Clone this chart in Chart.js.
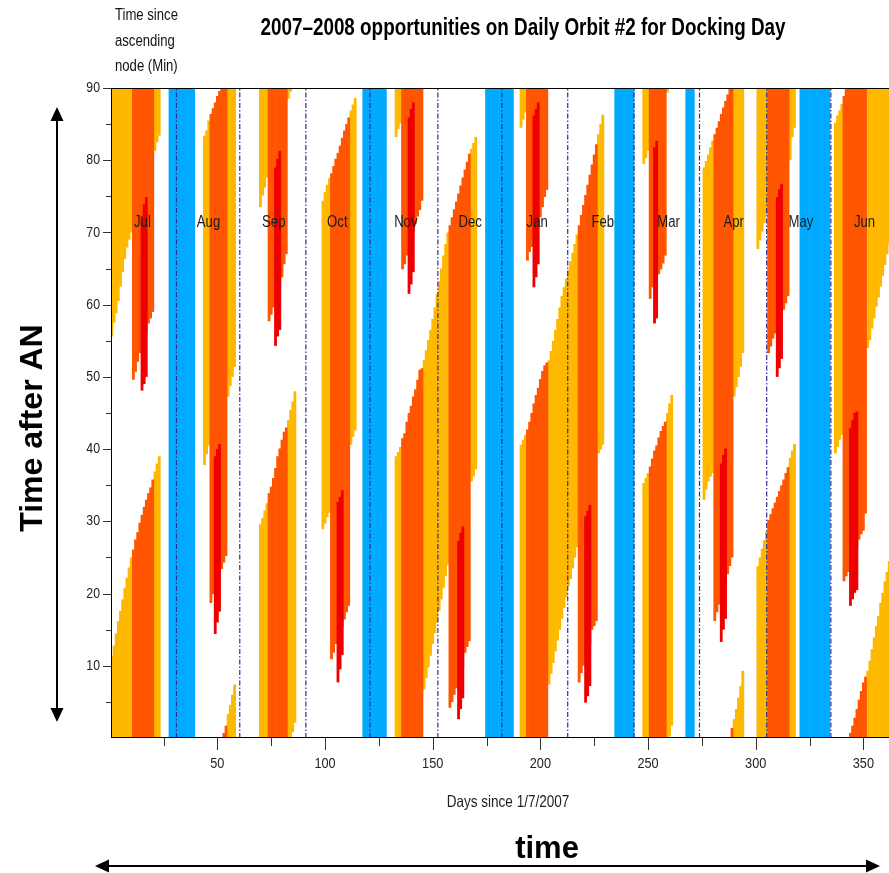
<!DOCTYPE html>
<html>
<head>
<meta charset="utf-8">
<title>2007-2008 opportunities on Daily Orbit #2 for Docking Day</title>
<script src="https://cdn.jsdelivr.net/npm/chart.js@4.4.1/dist/chart.umd.min.js"></script>
<style>
html,body{margin:0;padding:0;background:#fff;}
#box{position:relative;width:889px;height:873px;overflow:hidden;background:#fff;}
canvas{display:block;}
</style>
</head>
<body>
<div id="box"><canvas id="chart" width="889" height="873"></canvas></div>
<script>
// ---------------- data ----------------
// Each run: [first day, lower edges per day, upper edges per day]  (minutes after AN)
// When an upper edge is smaller than the lower edge the window wraps past 90 min.
const yellowRuns = [
  [1,   [55.6,57.5,58.8,60.5,62.5,64.5,66.3,67.9,69.0,70.0], [11.4,12.8,14.5,16.2,17.6,19.2,20.8,22.2,23.6,25.0]],
  [21,  [81.3,82.5,83.4], [36.9,38.0,39.0]],
  [44,  [37.8,39.3,40.5], [83.4,84.1,85.5]],
  [55,  [47.3,48.7,50.0,51.4], [3.3,4.6,6.0,7.4]],
  [70,  [73.5,75.1,76.2,77.6], [29.6,30.5,31.5,32.5]],
  [83,  [88.5,89.5,0.8,2.1], [44.0,45.4,46.6,48.0]],
  [99,  [28.9,29.7,30.6,31.2], [74.4,75.6,76.6,77.5]],
  [112, [40.6,41.7,42.6], [86.9,87.7,88.6]],
  [133, [83.2,84.3,85.1], [39.0,39.6,40.3]],
  [146, [6.7,8.3,9.8,11.4,13.0,14.5,16.0,17.6,19.2,20.8,22.4,24.0], [52.3,53.7,55.1,56.5,58.0,59.6,61.4,63.2,65.0,66.8,68.4,70.0]],
  [168, [35.5,36.2,37.2], [81.6,82.4,83.2]],
  [191, [84.5,85.6,86.6], [40.6,41.3,42.0]],
  [204, [7.4,8.9,10.4,12.0,13.5,15.0,16.5,18.0,19.5,21.0,22.0,23.5,25.0,26.4], [52.3,53.6,55.0,56.5,58.0,59.6,61.2,62.4,63.6,64.8,66.0,67.2,68.4,69.7]],
  [227, [39.4,39.9,40.6], [83.6,85.0,86.3]],
  [248, [79.5,80.3,81.3], [35.3,36.0,36.7]],
  [259, [89.4,0.3,1.7], [45.0,46.3,47.5]],
  [276, [33.0,34.4,35.5,36.2,36.7], [79.0,79.9,80.8,81.8,82.7]],
  [290, [47.3,48.6,50.0,51.4,53.3], [2.6,4.0,5.6,7.2,9.3]],
  [301, [67.7,68.9,70.1,71.3,72.5], [23.8,25.0,26.2,27.4,28.6]],
  [316, [80.0,83.2,84.5], [38.8,39.8,40.7]],
  [337, [39.4,40.3,41.3,42.0], [85.2,86.2,86.9,87.8]],
  [352, [54.0,55.1,56.7,58.1,59.7,61.0,62.5,64.0,65.5,67.0,68.4], [9.3,10.7,12.3,13.9,15.5,16.9,18.7,20.1,21.7,23.0,24.5]]
];
const orangeRuns = [
  [11,  [49.6,50.7,52.1,53.3,54.3,55.3,56.3,57.4,58.1,59.0], [26.1,27.5,28.5,29.8,30.9,32.0,33.0,33.9,34.7,35.8]],
  [47,  [18.7,19.9,21.0,22.0,22.8,23.4,24.3,25.2], [86.4,87.2,88.0,88.9,89.6,90,0.7,1.7]],
  [74,  [57.7,58.6,59.6,60.5,61.5,62.5,63.8,65.6,67.0], [33.9,34.8,36.0,37.4,39.0,40.1,41.3,42.4,43.0]],
  [103, [10.9,11.8,13.0,13.8,14.6,15.4,16.4,17.4,18.3], [78.2,79.2,80.2,81.0,82.0,83.1,84.1,85.0,85.9]],
  [136, [64.9,65.6,66.8,68.0,69.0,70.0,71.2,72.2,73.1,74.4], [41.5,42.2,43.8,45.0,46.0,47.3,48.3,49.6,51.0,51.2]],
  [158, [4.2,5.0,6.0,6.9,7.8,8.8,9.8,11.8,12.6,13.4], [71.0,72.1,73.2,74.3,75.4,76.5,77.6,78.7,79.8,80.9]],
  [194, [66.1,67.3,68.0,69.5,70.5,71.2,72.1,73.5,74.9,75.9], [42.7,43.8,45.0,46.3,47.5,48.5,49.7,50.8,51.6,52.0]],
  [218, [7.7,9.0,10.0,11.0,12.0,13.0,15.0,15.5,16.2], [71.0,72.4,73.8,75.2,76.6,78.0,79.4,80.8,82.2]],
  [251, [60.8,62.4,63.0,63.8,64.2,64.9,65.7,66.8], [37.6,38.7,39.8,40.5,41.6,42.5,43.2,43.8]],
  [281, [16.2,17.4,18.5,19.5,20.5,21.5,22.7,23.8,25.0], [83.6,84.5,85.4,86.4,87.3,88.2,89.1,90,1.4]],
  [306, [53.3,54.2,55.3,56.0,57.0,58.0,58.7,59.3,60.2,61.2], [30.2,31.0,31.8,32.6,33.4,34.2,35.0,35.8,36.7,37.5]],
  [341, [21.7,22.4,23.0,24.0,24.8,25.6,26.4,27.5,28.2,28.7,31.1], [88.9,89.9,90,0.7,1.7,2.8,4.0,5.3,6.5,7.7,8.5]]
];
const redRuns = [
  [15,  [48.1,49.0,50.0], [72.3,73.9,74.9]],
  [49,  [14.4,16.0,17.5], [39.0,40.0,40.7]],
  [77,  [54.3,55.6,56.5], [79.0,80.2,81.3]],
  [106, [7.7,9.5,11.5], [32.7,33.4,34.3]],
  [139, [61.5,62.8,64.5], [85.9,87.1,88.0]],
  [162, [2.6,4.0,5.5], [27.3,28.4,29.3]],
  [197, [62.4,63.8,65.6], [86.2,87.1,88.0]],
  [221, [4.9,5.8,7.2], [30.7,31.5,32.3]],
  [253, [57.4,58.1], [81.8,82.7]],
  [284, [13.3,15.0,16.5], [38.0,39.2,40.1]],
  [310, [50.0,51.2,52.5], [74.9,76.0,76.7]],
  [344, [18.3,19.2,20.1,20.5], [42.9,44.0,45.0,45.2]]
];
// fully blocked days (first day, last day)
const blueRuns = [[28,39],[118,128],[175,187],[235,243],[268,271],[321,334]];

const monthNames = ['Jul','Aug','Sep','Oct','Nov','Dec','Jan','Feb','Mar','Apr','May','Jun'];
const monthLabelDays = [15.2,45.9,76.2,105.7,137.5,167.4,198.5,229.0,259.5,289.8,321.0,350.5];
const monthLabelLevel = 71.4;
const monthLineDays = [31.0,60.4,91.1,120.9,152.4,182.1,212.7,243.5,273.9,305.1,334.9];

const xTickLabels = [50,100,150,200,250,300,350];
const xTickMarks  = [25,50,75,100,125,150,175,200,225,250,275,300,325,350];
const yTickLabels = [10,20,30,40,50,60,70,80,90];
const yTickMarks  = [5,10,15,20,25,30,35,40,45,50,55,60,65,70,75,80,85,90];
const dayRange = [0.6, 361.9];
const minuteRange = [0, 90];

// ---------------- helpers ----------------
const YELLOW = '#FFB800', ORANGE = '#FF5500', RED = '#EE0000', BLUE = '#00AAFF';
const TOP = minuteRange[1];

function toBars(runs) {
  const out = [];
  runs.forEach(([start, lo, hi]) => {
    lo.forEach((l, i) => {
      const d = start + i, h = hi[i];
      if (h < l) { out.push({x: d, y: [l, TOP]}); out.push({x: d, y: [minuteRange[0], h]}); }
      else out.push({x: d, y: [l, h]});
    });
  });
  return out;
}
function blueBars(runs) {
  const out = [];
  runs.forEach(([a, b]) => { for (let d = a; d <= b; d++) out.push({x: d, y: [minuteRange[0], TOP]}); });
  return out;
}
function monthLines(days) {
  const out = [];
  days.forEach(d => { out.push({x: d, y: minuteRange[0]}); out.push({x: d, y: TOP}); out.push({x: d, y: null}); });
  return out;
}

const NARROW = (function () {
  const c = document.createElement('canvas').getContext('2d');
  const s = 'Time since ascending node 0123456789';
  c.font = '40px monospace'; const a = c.measureText(s).width;
  c.font = '40px "Liberation Sans Narrow", monospace'; const b = c.measureText(s).width;
  return Math.abs(a - b) > 0.5;
})();

function txt(ctx, s, x, y, size, o) {
  o = o || {};
  ctx.save();
  ctx.translate(x, y);
  if (o.rot) ctx.rotate(o.rot);
  const w = o.bold ? 'bold ' : '';
  const narrow = o.narrow !== false;
  if (narrow && NARROW) ctx.font = w + size + 'px "Liberation Sans Narrow"';
  else { ctx.font = w + size + 'px "Liberation Sans", Arial, sans-serif'; if (narrow) ctx.scale(0.82, 1); }
  ctx.textAlign = o.align || 'left';
  ctx.textBaseline = o.baseline || 'alphabetic';
  ctx.fillStyle = o.color || '#111';
  ctx.fillText(s, 0, 0);
  ctx.restore();
}
function seg(ctx, x1, y1, x2, y2) { ctx.beginPath(); ctx.moveTo(x1, y1); ctx.lineTo(x2, y2); ctx.stroke(); }
function head(ctx, x, y, dx, dy, len, half) {
  const px = -dy, py = dx;
  ctx.beginPath();
  ctx.moveTo(x, y);
  ctx.lineTo(x - dx * len + px * half, y - dy * len + py * half);
  ctx.lineTo(x - dx * len - px * half, y - dy * len - py * half);
  ctx.closePath(); ctx.fill();
}

const decor = {
  id: 'decor',
  afterDraw(chart) {
    const ctx = chart.ctx, a = chart.chartArea, xs = chart.scales.x, ys = chart.scales.y;
    ctx.save();
    // frame
    ctx.strokeStyle = '#000'; ctx.lineWidth = 1;
    seg(ctx, a.left + 0.5, a.top, a.left + 0.5, a.bottom);
    seg(ctx, a.left, a.bottom - 0.5, a.right, a.bottom - 0.5);
    seg(ctx, a.left, a.top + 0.5, a.right, a.top + 0.5);
    // ticks
    ctx.strokeStyle = '#333';
    yTickMarks.forEach(v => {
      const py = Math.round(ys.getPixelForValue(v)) + 0.5;
      const len = yTickLabels.includes(v) ? 8 : 5;
      seg(ctx, a.left - len, py, a.left, py);
    });
    xTickMarks.forEach(v => {
      const px = Math.round(xs.getPixelForValue(v)) + 0.5;
      const len = xTickLabels.includes(v) ? 12 : 8;
      seg(ctx, px, a.bottom, px, a.bottom + len);
    });
    // tick labels
    yTickLabels.forEach(v => txt(ctx, String(v), a.left - 11, ys.getPixelForValue(v), 15, {align: 'right', baseline: 'middle', color: '#222'}));
    xTickLabels.forEach(v => txt(ctx, String(v), xs.getPixelForValue(v), 768, 15.5, {align: 'center', color: '#222'}));
    // month labels
    monthNames.forEach((m, i) => txt(ctx, m, xs.getPixelForValue(monthLabelDays[i]), ys.getPixelForValue(monthLabelLevel), 16, {align: 'center', baseline: 'middle', color: '#1a1a1a'}));
    // titles
    txt(ctx, '2007\u20132008 opportunities on Daily Orbit #2 for Docking Day', 523, 35, 23, {bold: true, align: 'center', color: '#000'});
    txt(ctx, 'Time since', 115, 20, 16, {color: '#111'});
    txt(ctx, 'ascending', 115, 46, 16, {color: '#111'});
    txt(ctx, 'node (Min)', 115, 71, 16, {color: '#111'});
    txt(ctx, 'Days since 1/7/2007', 508, 807, 16.5, {align: 'center', color: '#222'});
    txt(ctx, 'Time after AN', 33, 428, 32, {bold: true, narrow: false, align: 'center', baseline: 'middle', rot: -Math.PI / 2, color: '#000'});
    txt(ctx, 'time', 547, 858, 31, {bold: true, narrow: false, align: 'center', color: '#000'});
    // arrows
    ctx.strokeStyle = '#000'; ctx.fillStyle = '#000'; ctx.lineWidth = 2;
    seg(ctx, 57, 118, 57, 711);
    head(ctx, 57, 107, 0, -1, 14, 6.5);
    head(ctx, 57, 722, 0, 1, 14, 6.5);
    seg(ctx, 106, 866, 869, 866);
    head(ctx, 95, 866, -1, 0, 14, 6.5);
    head(ctx, 880, 866, 1, 0, 14, 6.5);
    ctx.restore();
  }
};

const barOpts = {grouped: false, barPercentage: 1.3, categoryPercentage: 1, borderWidth: 0};

new Chart(document.getElementById('chart'), {
  type: 'bar',
  data: {
    datasets: [
      {type: 'line', label: 'Month boundaries', data: monthLines(monthLineDays), borderColor: '#2e2e96', borderWidth: 1.2,
       borderDash: [5, 2, 1.5, 2], pointRadius: 0, fill: false, spanGaps: false, tension: 0, order: 0},
      Object.assign({label: 'Inner window', data: toBars(redRuns), backgroundColor: RED, order: 1}, barOpts),
      Object.assign({label: 'Window', data: toBars(orangeRuns), backgroundColor: ORANGE, order: 2}, barOpts),
      Object.assign({label: 'Outer window', data: toBars(yellowRuns), backgroundColor: YELLOW, order: 3}, barOpts),
      Object.assign({label: 'No opportunity', data: blueBars(blueRuns), backgroundColor: BLUE, order: 4}, barOpts)
    ]
  },
  options: {
    responsive: false,
    animation: false,
    events: [],
    layout: {padding: {top: 88, left: 0, right: 0, bottom: 0}},
    scales: {
      x: {type: 'linear', min: dayRange[0], max: dayRange[1], offset: false,
          grid: {display: false, drawTicks: false}, border: {display: false}, ticks: {display: false},
          afterFit(s) { s.height = 135; }},
      y: {type: 'linear', min: minuteRange[0], max: minuteRange[1],
          grid: {display: false, drawTicks: false}, border: {display: false}, ticks: {display: false},
          afterFit(s) { s.width = 111; }}
    },
    plugins: {legend: {display: false}, tooltip: {enabled: false}, title: {display: false}}
  },
  plugins: [decor]
});
</script>
</body>
</html>
